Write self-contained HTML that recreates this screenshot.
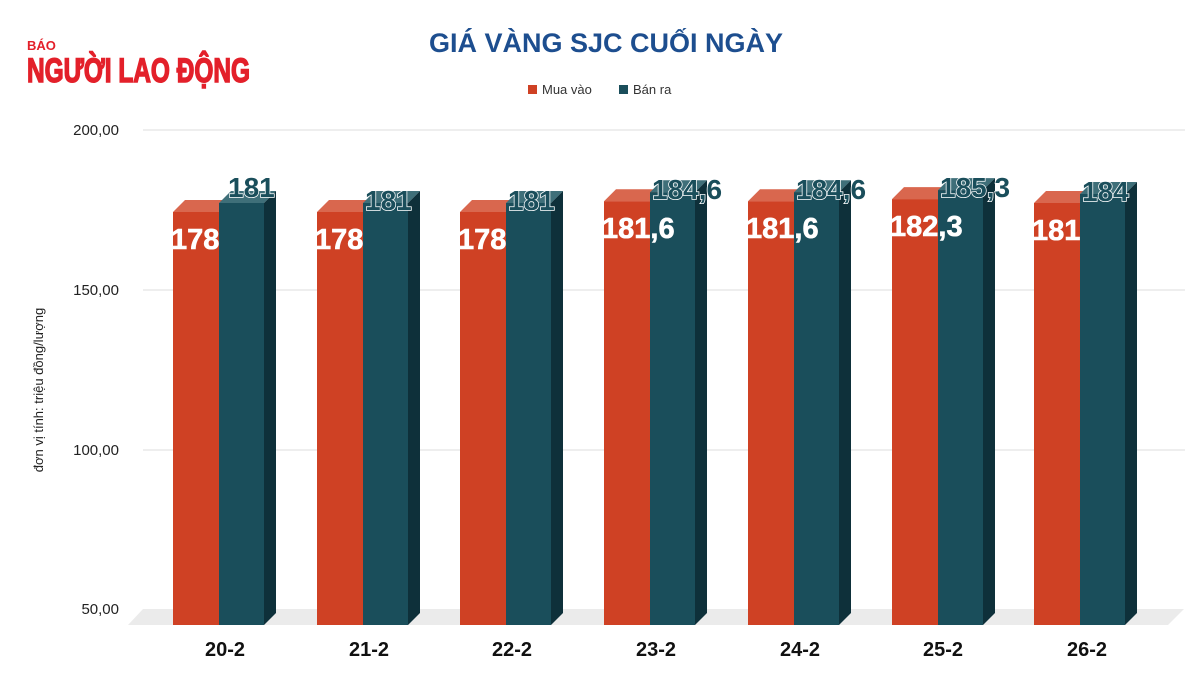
<!DOCTYPE html>
<html><head><meta charset="utf-8"><style>
html,body{margin:0;padding:0;background:#fff;}
svg{display:block;}
</style></head><body>
<svg width="1201" height="682" viewBox="0 0 1201 682" xmlns="http://www.w3.org/2000/svg" font-family="Liberation Sans, sans-serif">
<rect width="1201" height="682" fill="#fff"/>
<text x="27" y="50" font-size="13" font-weight="bold" fill="#e3202a">BÁO</text>
<text x="27" y="82" font-size="34" font-weight="bold" fill="#e3202a" stroke="#e3202a" stroke-width="1.5" textLength="223" lengthAdjust="spacingAndGlyphs">NGƯỜI LAO ĐỘNG</text>
<text x="606" y="52" font-size="27" font-weight="bold" fill="#1d4e8f" text-anchor="middle">GIÁ VÀNG SJC CUỐI NGÀY</text>
<rect x="528" y="85" width="9" height="9" fill="#cf4124"/>
<text x="542" y="94" font-size="13" fill="#333">Mua vào</text>
<rect x="619" y="85" width="9" height="9" fill="#1a4e5b"/>
<text x="633" y="94" font-size="13" fill="#333">Bán ra</text>
<g stroke="#dcdcdc" stroke-width="1">
<line x1="143" y1="130" x2="1185" y2="130"/>
<line x1="143" y1="290" x2="1185" y2="290"/>
<line x1="143" y1="450" x2="1185" y2="450"/>
</g>
<polygon points="128,625 143,609 1184,609 1168,625" fill="#ebebeb"/>
<g font-size="15" fill="#222" text-anchor="end">
<text x="119" y="135">200,00</text>
<text x="119" y="295">150,00</text>
<text x="119" y="455">100,00</text>
<text x="119" y="614">50,00</text>
</g>
<text transform="translate(43,390) rotate(-90)" font-size="13" fill="#222" text-anchor="middle">đơn vị tính: triệu đồng/lượng</text>
<g id="bars"></g>
<g font-size="20" font-weight="bold" fill="#111" text-anchor="middle">
<text x="225" y="656">20-2</text>
<text x="369" y="656">21-2</text>
<text x="512" y="656">22-2</text>
<text x="656" y="656">23-2</text>
<text x="800" y="656">24-2</text>
<text x="943" y="656">25-2</text>
<text x="1087" y="656">26-2</text>
</g>
</svg>
<script>
var data=[[178,181],[178,181],[178,181],[181.6,184.6],[181.6,184.6],[182.3,185.3],[181,184]];
var starts=[173,317,460,604,748,892,1034];
var g=document.getElementById('bars');var h='';
function ty(v){return 212-(v-178)*3;}
data.forEach(function(d,i){
 var x=starts[i];var r=ty(d[0]),t=ty(d[1]);
 h+='<polygon points="'+x+','+r+' '+(x+12)+','+(r-12)+' '+(x+58)+','+(r-12)+' '+(x+46)+','+r+'" fill="#d9674e"/>';
 h+='<rect x="'+x+'" y="'+r+'" width="46" height="'+(625-r)+'" fill="#cf4124"/>';
 h+='<polygon points="'+(x+46)+','+t+' '+(x+58)+','+(t-12)+' '+(x+103)+','+(t-12)+' '+(x+91)+','+t+'" fill="#3f6f79"/>';
 h+='<polygon points="'+(x+91)+','+t+' '+(x+103)+','+(t-12)+' '+(x+103)+','+(613)+' '+(x+91)+','+625+'" fill="#0e303a"/>';
 h+='<rect x="'+(x+46)+'" y="'+t+'" width="45" height="'+(625-t)+'" fill="#1a4e5b"/>';
 var rl=String(d[0]).replace('.',','),tl=String(d[1]).replace('.',',');
 h+='<text x="'+(x-2)+'" y="'+(r+37)+'" font-size="29" font-weight="bold" fill="#fff" stroke="#fff" stroke-width="0.6">'+rl+'</text>';
 var tx=x+46+(i==0?9:2),tyy=(i==0?t-6:t+7);
 h+='<text x="'+tx+'" y="'+tyy+'" font-size="28" font-weight="bold" fill="#1a4e5b" stroke="#fff" stroke-width="1.5" paint-order="stroke">'+tl+'</text>';
});
g.innerHTML=h;
</script>
</body></html>
